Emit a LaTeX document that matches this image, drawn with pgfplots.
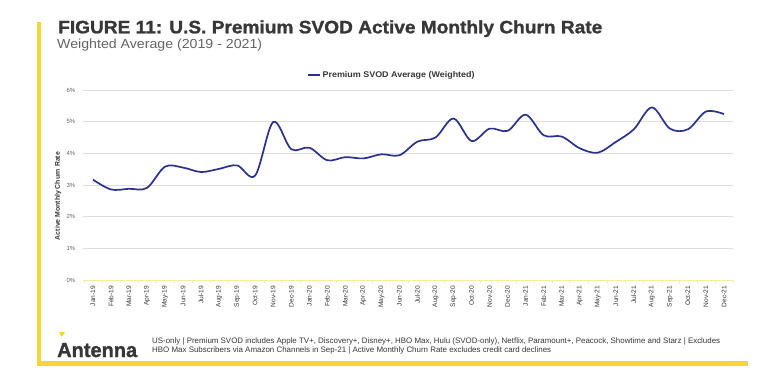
\documentclass[border=0pt]{standalone}
\usepackage{fontspec}
\setmainfont{Liberation Sans}
\newfontfamily\heavy[FakeBold=1.2]{Liberation Sans Bold}
\usepackage{pgfplots}
\pgfplotsset{compat=1.18}
\definecolor{navy}{RGB}{43,50,140}
\definecolor{ayellow}{RGB}{246,214,55}
\definecolor{lyellow}{RGB}{246,236,160}
\definecolor{gridgray}{RGB}{222,222,222}
\definecolor{tgray}{RGB}{100,100,100}
\definecolor{dgray}{RGB}{55,55,55}
\begin{document}
\begin{tikzpicture}[x=1bp,y=1bp]
\useasboundingbox[fill=white] (0,0) rectangle (770,387);
\fill[ayellow] (37,21) rectangle (41,365);
\fill[ayellow] (37,21) rectangle (748,26);
\node[anchor=base west,inner sep=0pt,text=dgray] at (58,353.7) {\resizebox{544bp}{13bp}{\heavy FIGURE 11: U.S. Premium SVOD Active Monthly Churn Rate}};
\node[anchor=base west,inner sep=0pt,text=tgray] at (57,338.7) {\resizebox{205bp}{9.5bp}{Weighted Average (2019 - 2021)}};
\node[rotate=90,inner sep=0pt,text=dgray] at (58,191) {\resizebox{88bp}{5bp}{\bfseries Active Monthly Churn Rate}};
\begin{axis}[
  at={(83bp,107bp)}, anchor=south west,
  scale only axis, width=650bp, height=190bp,
  xmin=-0.55, xmax=35.5, ymin=0, ymax=6,
  axis x line*=bottom, axis y line*=left,
  x axis line style={lyellow, line width=0.8bp},
  y axis line style={draw=none},
  ytick={0,1,2,3,4,5,6},
  yticklabel={\pgfmathprintnumber{\tick}\%},
  /pgf/number format/assume math mode=true,
  ymajorgrids, grid style={gridgray, line width=0.6bp},
  ytick style={draw=none},
  yticklabel style={font=\fontsize{6}{7}\selectfont, text=tgray},
  xtick={0,...,35},
  xticklabels={Jan-19,Feb-19,Mar-19,Apr-19,May-19,Jun-19,Jul-19,Aug-19,Sep-19,Oct-19,Nov-19,Dec-19,Jan-20,Feb-20,Mar-20,Apr-20,May-20,Jun-20,Jul-20,Aug-20,Sep-20,Oct-20,Nov-20,Dec-20,Jan-21,Feb-21,Mar-21,Apr-21,May-21,Jun-21,Jul-21,Aug-21,Sep-21,Oct-21,Nov-21,Dec-21},
  xticklabel style={rotate=90, anchor=east, font=\fontsize{6.6}{7}\selectfont, text=dgray, inner sep=1.5pt},
  major x tick style={draw=none},
  minor xtick={-0.5,0.5,...,35.5},
  minor x tick style={lyellow, line width=0.6bp},
  minor tick length=2.5bp, tick align=outside,
  legend style={at={(0.475,1.079)}, anchor=center, draw=none, fill=none, text=dgray, inner sep=0pt},
  legend image code/.code={\draw[#1] (0bp,0bp) -- (12bp,0bp);},
]
\addplot[navy, line width=1.7bp, smooth, tension=0.55] coordinates {
(0,3.17) (1,2.86) (2,2.88) (3,2.91) (4,3.58) (5,3.55) (6,3.41) (7,3.51) (8,3.62) (9,3.30)
(10,4.99) (11,4.13) (12,4.18) (13,3.78) (14,3.88) (15,3.84) (16,3.97) (17,3.94) (18,4.37) (19,4.50)
(20,5.10) (21,4.39) (22,4.78) (23,4.71) (24,5.22) (25,4.57) (26,4.53) (27,4.16) (28,4.02) (29,4.36)
(30,4.76) (31,5.45) (32,4.78) (33,4.76) (34,5.32) (35,5.24)};
\addlegendentry{\resizebox{152bp}{6bp}{\bfseries Premium SVOD Average (Weighted)}}
\end{axis}
\fill[ayellow] (59,55) -- (65,55) -- (62,50) -- cycle;
\node[anchor=base west,inner sep=0pt,text=dgray] at (57,30) {\resizebox{80bp}{14bp}{\heavy Antenna}};
\node[anchor=base west,inner sep=0pt,text=dgray] at (152,44) {\resizebox{568bp}{!}{US-only | Premium SVOD includes Apple TV+, Discovery+, Disney+, HBO Max, Hulu (SVOD-only), Netflix, Paramount+, Peacock, Showtime and Starz | Excludes}};
\node[anchor=base west,inner sep=0pt,text=dgray] at (152,35) {\resizebox{399bp}{!}{HBO Max Subscribers via Amazon Channels in Sep-21 | Active Monthly Churn Rate excludes credit card declines}};
\end{tikzpicture}
\end{document}
